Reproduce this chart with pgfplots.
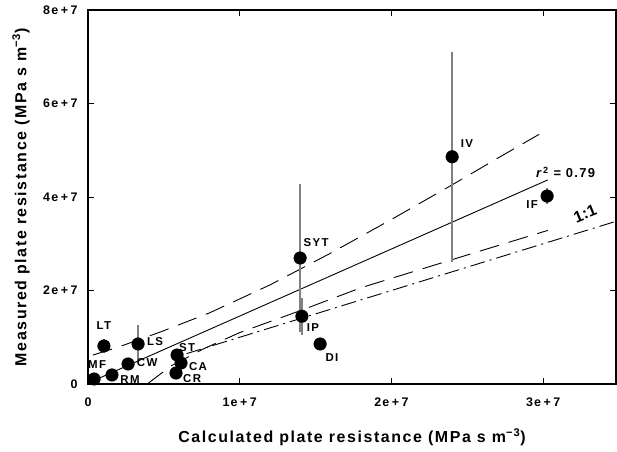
\documentclass[border=0pt]{standalone}
\usepackage{fontspec}
\setmainfont{Liberation Sans}[LetterSpace=10]
\usepackage{pgfplots}
\pgfplotsset{compat=1.18}
\newcommand{\pl}{\hspace{2.5bp}+\hspace{2.5bp}}
\begin{document}
\begin{tikzpicture}
\useasboundingbox (-88bp,-68bp) rectangle (529bp,384bp);
\begin{axis}[
 at={(0,0)}, anchor=south west,
 scale only axis, width=528bp, height=374bp,
 xmin=0, xmax=34.8, ymin=0, ymax=80,
 xtick={0,10,20,30}, xticklabels={0,1e\pl7,2e\pl7,3e\pl7},
 ytick={0,20,40,60,80}, yticklabels={0,2e\pl7,4e\pl7,6e\pl7,8e\pl7},
 tick align=inside, major tick length=6bp,
 tick style={black, line width=0.8bp},
 axis line style={line width=1.2bp},
 /pgf/number format/assume math mode=true,
 ticklabel style={font=\fontsize{12.5}{14}\selectfont\bfseries},
 xticklabel style={yshift=-10bp},
 yticklabel style={xshift=-7bp},
 xlabel={Calculated plate resistance (MPa s m\textsuperscript{−3})},
 ylabel={Measured plate resistance (MPa s m\textsuperscript{−3})},
 label style={font=\fontsize{16}{18}\selectfont\bfseries},
 xlabel style={at={(axis description cs:0.5,-0.142)}, anchor=center},
 ylabel style={at={(axis description cs:-0.127,0.5)}, anchor=center},
]
% regression line
\addplot[black, line width=0.9bp] coordinates {(0.4,0.77) (30.3,43.65)};
% upper confidence band
\addplot[black, line width=0.9bp, dash pattern=on 20bp off 10bp] coordinates {
(0.33,6.2) (2,7.9) (4.75,11.1) (8,15.2) (12,21.2) (16,28.0) (20,35.2) (24,42.6) (27,48.3) (29.73,53.4)};
% lower confidence band
\addplot[black, line width=0.9bp, dash pattern=on 20bp off 10bp] coordinates {
(3.9,0) (5.5,3.9) (7.6,7.5) (10,11.0) (14,15.7) (18,20.6) (22,24.6) (26,28.6) (30.3,32.85)};
% 1:1 line
\addplot[black, line width=0.9bp, dash pattern=on 15bp off 5bp on 2bp off 5bp] coordinates {(6.5,6.5) (34.8,34.8)};
% data
\addplot[only marks, mark=*, mark size=6.3bp, black,
  error bars/.cd, y dir=both, y explicit, error mark=none,
  error bar style={color=black!50, line width=1.5bp}]
  table[x=x, y=y, y error=e] {
x y e
0.4 1.07 0
1.58 1.93 0
2.64 4.28 0
1.05 8.13 1.5
3.30 8.56 4.0
5.87 6.2 0
6.13 4.49 0
5.8 2.35 0
13.98 26.95 15.9
14.1 14.5 4.0
15.3 8.56 0
24.0 48.6 22.5
30.26 40.2 1.8
};
\begin{scope}[every node/.style={font=\fontsize{11.5}{13}\selectfont\bfseries\addfontfeatures{LetterSpace=12}, inner sep=0pt}]
\node at (axis cs:1.05,12.4) {LT};
\node at (axis cs:4.42,9.0) {LS};
\node at (axis cs:0.6,4.1) {MF};
\node at (axis cs:3.9,4.5) {CW};
\node at (axis cs:2.77,0.86) {RM};
\node at (axis cs:6.53,7.9) {ST};
\node at (axis cs:7.25,3.64) {CA};
\node at (axis cs:6.86,1.07) {CR};
\node at (axis cs:15.03,30.2) {SYT};
\node at (axis cs:14.83,12.0) {IP};
\node at (axis cs:16.08,5.56) {DI};
\node at (axis cs:24.98,51.5) {IV};
\node at (axis cs:29.27,38.3) {IF};
\end{scope}
\node[font=\fontsize{13}{15}\selectfont\bfseries, inner sep=0pt] at (axis cs:31.48,45.3) {\textit{r}\textsuperscript{2} = 0.79};
\node[font=\fontsize{16}{18}\selectfont\bfseries\addfontfeatures{LetterSpace=0}, inner sep=0pt, rotate=22] at (axis cs:32.76,36.4) {1:1};
\end{axis}
\end{tikzpicture}
\end{document}
